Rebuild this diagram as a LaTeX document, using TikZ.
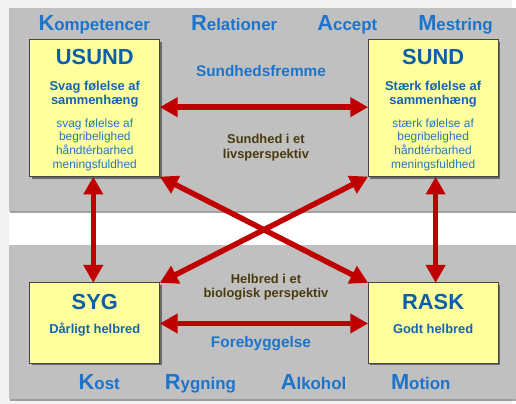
\documentclass[tikz,border=0pt]{standalone}
\usepackage{fontspec}
\setmainfont{Liberation Sans}
\usetikzlibrary{arrows.meta,shadows}
\definecolor{panelgray}{HTML}{C0C0C0}
\definecolor{framegray}{HTML}{F2F2F2}
\definecolor{boxfill}{HTML}{FFFF9E}
\definecolor{boxline}{HTML}{454545}
\definecolor{titleblue}{HTML}{0B5EA8}
\definecolor{subblue}{HTML}{1565B0}
\definecolor{lightblue}{HTML}{2377C2}
\definecolor{headblue}{HTML}{1C74CC}
\definecolor{olive}{HTML}{4A3A10}
\definecolor{arrowred}{HTML}{C00000}
\newcommand{\px}[1]{\fontsize{#1}{#1}\selectfont}
\newcommand{\bigini}[2]{{\px{22}#1}{\px{17}#2}}
\tikzset{
  panel/.style={fill=panelgray, draw=none,
    drop shadow={shadow xshift=1.5pt, shadow yshift=-2pt, opacity=0.35, fill=black}},
  card/.style={draw=boxline, line width=0.9pt, fill=boxfill, outer sep=0pt,
    minimum width=131pt, inner sep=0pt,
    drop shadow={shadow xshift=2pt, shadow yshift=-2pt, opacity=0.45, fill=black}},
  head/.style={anchor=base, font=\bfseries, text=headblue, inner sep=0pt},
  ctitle/.style={anchor=base, font=\bfseries\px{22}, text=titleblue, inner sep=0pt},
  csub/.style={anchor=base, font=\bfseries\px{13}, text=subblue, inner sep=0pt},
  clight/.style={anchor=base, font=\px{12}, text=lightblue, inner sep=0pt},
  midblue/.style={anchor=base, font=\bfseries\px{15.5}, text=headblue, inner sep=0pt},
  midbrown/.style={anchor=base, font=\bfseries\px{13}, text=olive, inner sep=0pt},
  link/.style={draw=arrowred, line width=5.5pt,
    {Triangle[length=18pt,width=19pt]}-{Triangle[length=18pt,width=19pt]},
    drop shadow={shadow xshift=1pt, shadow yshift=-1.5pt, opacity=0.3}}
}
\begin{document}
\begin{tikzpicture}[x=1pt,y=-1pt]
  % page and panels
  \fill[framegray] (0,0) rectangle (516,407);
  \fill[white] (9,214) rectangle (516,247);
  \path[panel] (9,8) rectangle (520,213);
  \path[panel] (9,247) rectangle (520,402);

  % header words
  \node[head] (kompetencer) at (95,31) {\bigini{K}{ompetencer}};
  \node[head] (relationer) at (236,31) {\bigini{R}{elationer}};
  \node[head] (accept) at (350,31) {\bigini{A}{ccept}};
  \node[head] (mestring) at (459,31) {\bigini{M}{estring}};

  % the four cards
  \node[card, minimum height=138pt] (usund) at (95.5,109) {};
  \node[card, minimum height=138pt] (sund) at (436.5,109) {};
  \node[card, minimum height=81pt] (syg) at (95.5,325.5) {};
  \node[card, minimum height=81pt] (rask) at (436.5,325.5) {};

  % card texts
  \node[ctitle] (usundT) at (95.5,65) {USUND};
  \node[csub] (usundA) at (95.5,91) {Svag følelse af};
  \node[csub] (usundB) at (95.5,105) {sammenhæng};
  \node[clight] (usundC) at (95.5,128) {svag følelse af};
  \node[clight] (usundD) at (95.5,142) {begribelighed};
  \node[clight] (usundE) at (95.5,156) {håndtérbarhed};
  \node[clight] (usundF) at (95.5,170) {meningsfuldhed};

  \node[ctitle] (sundT) at (436.5,65) {SUND};
  \node[csub] (sundA) at (436.5,91) {Stærk følelse af};
  \node[csub] (sundB) at (436.5,105) {sammenhæng};
  \node[clight] (sundC) at (436.5,128) {stærk følelse af};
  \node[clight] (sundD) at (436.5,142) {begribelighed};
  \node[clight] (sundE) at (436.5,156) {håndtérbarhed};
  \node[clight] (sundF) at (436.5,170) {meningsfuldhed};

  \node[ctitle] (sygT) at (95.5,311.5) {SYG};
  \node[csub] (sygA) at (95.5,336) {Dårligt helbred};
  \node[ctitle] (raskT) at (436.5,311.5) {RASK};
  \node[csub] (raskA) at (436.5,336) {Godt helbred};

  % middle labels
  \node[midblue] (fremme) at (263,77) {Sundhedsfremme};
  \node[midbrown] (livA) at (268,145) {Sundhed i et};
  \node[midbrown] (livB) at (268,160) {livsperspektiv};
  \node[midbrown] (bioA) at (268,286) {Helbred i et};
  \node[midbrown] (bioB) at (268,299.5) {biologisk perspektiv};
  \node[midblue] (forebyg) at (263,350.5) {Forebyggelse};

  % arrows between the cards
  \path[link] (usund.east |- 0,108) -- (sund.west |- 0,108);
  \path[link] (syg.east |- 0,326) -- (rask.west |- 0,326);
  \path[link] ([xshift=-1.5pt]usund.south) -- ([xshift=-1.5pt]syg.north);
  \path[link] ([xshift=2.5pt]sund.south) -- ([xshift=2.5pt]rask.north);
  \path[link] (usund.south east) -- (rask.north west);
  \path[link] (sund.south west) -- (syg.north east);

  % footer words
  \node[head] (kost) at (100,393) {\bigini{K}{ost}};
  \node[head] (rygning) at (202,393) {\bigini{R}{ygning}};
  \node[head] (alkohol) at (316,393) {\bigini{A}{lkohol}};
  \node[head] (motion) at (424,393) {\bigini{M}{otion}};
\end{tikzpicture}
\end{document}
